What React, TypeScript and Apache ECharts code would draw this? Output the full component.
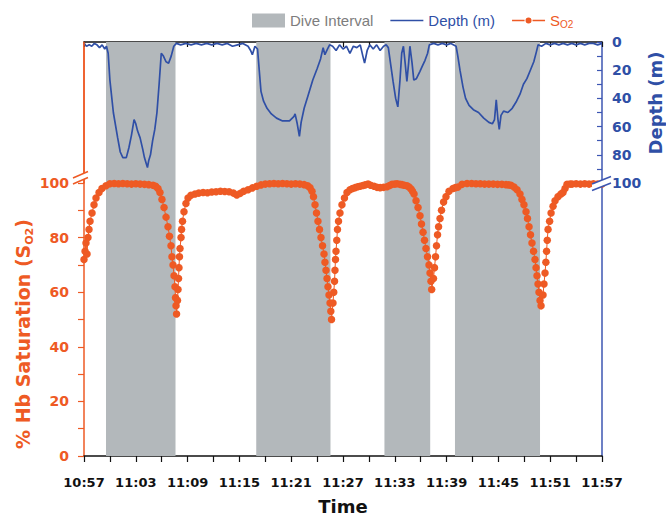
import React, { useEffect, useRef } from 'react';
import * as echarts from 'echarts';

const ORANGE = '#EE5A24';
const BLUE = '#2F4FA6';
const BLUE_AX = '#3C56B2';
const GRAY = '#B3B8BB';

// Dive intervals, minutes after 10:57
const diveStart = [2.55, 19.95, 34.8, 42.97];
const diveEnd = [10.6, 28.55, 40.1, 52.82];

// Depth (m) trace, minutes after 10:57
const depthMin = [
  0, 0.3, 0.6, 0.9, 1.2, 1.5, 1.8, 2.1, 2.4, 2.6, 2.8, 3.0, 3.4, 3.9, 4.2, 4.5, 4.9, 5.2, 5.5, 5.8,
  6.0, 6.2, 6.5, 6.8, 7.0, 7.2, 7.35, 7.5, 7.7, 7.95, 8.2, 8.45, 8.7, 8.95, 9.2, 9.5, 9.8, 10.1, 10.4, 10.7,
  11.2, 11.8, 12.4, 13, 13.6, 14.2, 14.8, 15.4, 16, 16.6, 17.2, 17.8, 18.4, 19, 19.3, 19.5, 19.8,
  20.1, 20.3, 20.5, 20.8, 21.2, 21.7, 22.3, 23, 23.8, 24.3, 24.45, 24.7, 24.95, 25.15, 25.5, 26, 26.5,
  27, 27.4, 27.7, 27.9, 28.2, 28.45,
  28.8, 29.2, 29.6, 30, 30.4, 30.8, 31.2, 31.6, 32, 32.3, 32.5, 32.8, 33.1, 33.5, 33.9, 34.3, 34.7, 35.0,
  35.25, 35.5, 35.8, 36.1, 36.35, 36.6, 36.8, 37, 37.2, 37.4, 37.6, 37.75, 38, 38.2, 38.5, 38.9, 39.2,
  39.5, 39.8, 40, 40.5, 41, 41.5, 42, 42.5,
  43.1, 43.3, 43.55, 43.9, 44.2, 44.6, 45.1, 45.7, 46.3, 46.9, 47.3, 47.55, 47.75, 47.95, 48.1, 48.3,
  48.6, 49.1, 49.6, 50.1, 50.5, 50.9, 51.3, 51.7, 52.1, 52.4, 52.6,
  53, 53.5, 54, 54.5, 55, 55.5, 56, 56.5, 57, 57.5, 58, 58.5, 59, 59.5, 60,
];
const depthM = [
  1, 3, 2, 3, 1, 2, 4, 2, 5, 3, 8, 27, 50, 68, 78, 82, 82, 75, 66, 55,
  58, 63, 68, 76, 82, 86, 89, 84, 80, 70, 62, 50, 30, 8, 10, 14, 15, 10, 3, 1,
  2, 1, 2, 1, 2, 1, 2, 1, 2, 1, 3, 2, 1, 3, 6, 9, 3,
  5, 20, 35, 42, 47, 51, 54, 56, 56, 53, 51, 58, 67, 57, 47, 37, 27,
  19, 12, 4, 9, 5, 2,
  3, 6, 2, 5, 3, 8, 3, 4, 2, 10, 15, 6, 2, 5, 2, 6, 3, 2,
  4, 15, 28, 40, 46, 27, 8, 3, 15, 28, 15, 3, 15, 27, 26, 21, 17,
  13, 8, 2, 1, 2, 1, 2, 1,
  3, 10, 20, 32, 40, 45, 48, 50, 54, 57, 58, 55, 41, 55, 62, 52,
  49, 50, 47, 42, 37, 30, 26, 20, 14, 7, 2,
  3, 1, 2, 1, 2, 1, 2, 1, 2, 1, 2, 1, 1, 2, 1,
];

// Hb saturation (%) samples, minutes after 10:57
const so2Min = [
  0, 0.12, 0.23, 0.35, 0.46, 0.58, 0.7, 0.93, 1.16, 1.39, 1.74, 2.08, 2.55, 3.0, 3.5, 4.0, 4.5, 5.0,
  5.5, 6.0, 6.5, 7.0, 7.5, 8.0, 8.3, 8.57, 8.8, 9.03, 9.27, 9.5, 9.73, 9.9, 10.08, 10.19, 10.31, 10.43,
  10.54, 10.6, 10.66, 10.72, 10.83, 10.89, 10.95, 11.0, 11.06, 11.12, 11.24, 11.3, 11.41, 11.58, 11.81,
  12.05, 12.39, 12.86, 13.3, 13.8, 14.3, 14.8, 15.3, 15.8, 16.3, 16.8, 17.3, 17.7, 18.1, 18.5, 19.0,
  19.5, 20.0, 20.5, 21.0, 21.5, 22.0, 22.5, 23.0, 23.5, 24.0, 24.5, 25.0, 25.5, 25.9, 26.18, 26.41,
  26.58, 26.76, 26.93, 27.1, 27.28, 27.45, 27.63, 27.8, 27.91, 28.03, 28.15, 28.26, 28.38, 28.5, 28.59,
  28.67, 28.84, 28.93, 29.02, 29.07, 29.13, 29.19, 29.28, 29.36, 29.48, 29.65, 29.88, 30.17, 30.46,
  30.81, 31.1, 31.39, 31.7, 31.97, 32.3, 32.55, 32.9, 33.2, 33.6, 33.94, 34.3, 34.7, 35.1, 35.4, 35.68,
  36.0, 36.26, 36.6, 36.84, 37.1, 37.41, 37.65, 37.88, 38.05, 38.23, 38.46, 38.69, 38.92, 39.09, 39.27,
  39.44, 39.61, 39.79, 39.96, 40.08, 40.19, 40.27, 40.48, 40.6, 40.72, 40.83, 40.95, 41.07, 41.24,
  41.41, 41.65, 41.93, 42.28, 42.74, 43.0, 43.32, 43.79, 44.37, 44.9, 45.4, 45.9, 46.4, 46.9, 47.4,
  47.9, 48.4, 48.88, 49.2, 49.46, 49.81, 50.16, 50.5, 50.73, 50.96, 51.2, 51.37, 51.55, 51.72, 51.89,
  52.07, 52.24, 52.36, 52.47, 52.59, 52.7, 52.82, 52.94, 53.17, 53.28, 53.4, 53.5, 53.58, 53.66, 53.75,
  53.93, 54.1, 54.33, 54.56, 54.9, 55.25, 55.48, 55.72, 55.95, 56.3, 56.53, 57.0, 57.5, 58.0, 58.5,
  59.0, 59.5, 60.0,
];
const so2Pct = [
  72, 75, 78, 74, 80, 83, 86, 89, 92, 94.5, 96.5, 98, 99, 99.7, 99.8, 99.7, 99.8, 99.7,
  99.6, 99.7, 99.6, 99.5, 99.4, 99.2, 98.8, 98, 96.5, 94, 91, 87.5, 84, 80.5, 77, 73, 70, 66,
  62, 58, 55, 52, 57, 61, 65, 69, 73, 76, 80, 83, 86, 89.5, 92.5,
  94.5, 95.5, 96, 96.3, 96.5, 96.4, 96.7, 96.8, 97, 96.9, 96.8, 96.3, 95.6, 96.2, 97, 97.5,
  98.2, 98.8, 99.3, 99.6, 99.7, 99.8, 99.7, 99.8, 99.7, 99.6, 99.7, 99.6, 99.4, 99, 98.3, 97,
  95, 92, 89, 86, 83, 80, 77, 74, 71, 68, 65, 62, 59, 56, 53,
  50, 56, 60, 64, 68, 72, 75, 79, 83, 86, 89, 92, 94.5, 96.5,
  97.5, 98, 98.3, 98.6, 98.8, 99.1, 99.3, 99.6, 99.2, 98.8, 98.4, 98.3, 98.4, 98.6, 99.1, 99.5,
  99.6, 99.7, 99.5, 99.4, 99.2, 99, 98.5, 97.8, 97, 96, 93.5, 91, 88, 85, 82,
  79, 76, 73, 70, 67, 64, 61, 65, 69, 73, 77, 81, 84, 87,
  90, 93, 95, 97, 98, 98.3, 98.5, 99.5, 99.8, 99.8, 99.7, 99.7, 99.6, 99.6, 99.6,
  99.5, 99.5, 99.4, 99.3, 99.2, 98.5, 97.5, 96, 94, 92, 89.5, 87, 84, 81, 78,
  75, 72, 69, 66, 63, 60, 57, 55, 59, 63, 67, 71, 75, 79, 83,
  86, 89, 91.5, 93.5, 95, 96, 96.5, 98, 99.5, 99.6, 99.6, 99.7, 99.6, 99.7, 99.6,
  99.7, 99.6, 99.6,
];

function fmtTime(v: number): string {
  const t = 10 * 60 + 57 + Math.round(v);
  const h = Math.floor(t / 60);
  const m = t % 60;
  return `${h}:${String(m).padStart(2, '0')}`;
}

// legend icons (tiny corner specks fix the icon box to 33x14)
const BOX = 'M0,0h0.05v0.05h-0.05z M32.95,13.95h0.05v0.05h-0.05z ';
const LINE_ICON = 'path://' + BOX + 'M0,6.2h33v1.6h-33z';
const DOT_ICON = 'path://' + BOX + 'M0,6.3h12.5v1.4h-12.5z M20.5,6.3h12.5v1.4h-12.5z M13.5,7a3,3 0 1,0 6,0a3,3 0 1,0 -6,0z';

export default function App() {
  const ref = useRef<HTMLDivElement>(null);
  useEffect(() => {
    const chart = echarts.init(ref.current as HTMLDivElement, null, { renderer: 'svg' });
    const diveAreas = diveStart.map((s, i) => [{ xAxis: s }, { xAxis: diveEnd[i] }]);
    const titleRich = {
      m: { fontFamily: 'DejaVu Sans', fontSize: 19, fontWeight: 'bold', fill: ORANGE, lineHeight: 24 },
      sub: { fontFamily: 'DejaVu Sans', fontSize: 11, fontWeight: 'bold', fill: ORANGE, verticalAlign: 'bottom', lineHeight: 13 },
    };
    const option: any = {
      animation: false,
      backgroundColor: '#ffffff',
      textStyle: { fontFamily: 'DejaVu Sans' },
      legend: {
        left: 247,
        top: 8,
        itemWidth: 33,
        itemHeight: 14,
        itemGap: 17,
        formatter: (n: string) => (n === 'SO2' ? '{s|S}{o|O2}' : n),
        textStyle: {
          fontFamily: 'Liberation Sans',
          fontSize: 15,
          rich: {
            s: { color: ORANGE, fontSize: 15, fontFamily: 'Liberation Sans', lineHeight: 18 },
            o: { color: ORANGE, fontSize: 10, fontFamily: 'Liberation Sans', verticalAlign: 'bottom', lineHeight: 12 },
          },
        },
        data: [
          { name: 'Dive Interval', icon: 'rect', itemStyle: { color: GRAY }, textStyle: { color: '#7d7d7d' } },
          { name: 'Depth (m)', icon: LINE_ICON, itemStyle: { color: BLUE }, textStyle: { color: BLUE } },
          { name: 'SO2', icon: DOT_ICON, itemStyle: { color: ORANGE }, textStyle: { color: ORANGE } },
        ],
      },
      grid: [
        { left: 84, width: 518, top: 42, height: 141 },
        { left: 84, width: 518, top: 183, height: 280 },
      ],
      xAxis: [
        {
          type: 'value', gridIndex: 0, position: 'top', min: 0, max: 60, interval: 3,
          axisLine: { onZero: false, lineStyle: { color: '#111', width: 1.5 } },
          axisTick: { inside: true, length: 5, lineStyle: { color: '#111', width: 1.2 } },
          axisLabel: { show: false }, splitLine: { show: false },
        },
        {
          type: 'value', gridIndex: 1, position: 'bottom', min: 0, max: 60, interval: 3,
          axisLine: { onZero: false, lineStyle: { color: '#111', width: 1.5 } },
          axisTick: { length: 6, lineStyle: { color: '#111', width: 1.2 } },
          axisLabel: {
            formatter: (v: number) => (Math.round(v) % 6 === 0 ? fmtTime(v) : ''),
            color: '#111', fontWeight: 'bold', fontSize: 13, fontFamily: 'DejaVu Sans', margin: 20,
          },
          splitLine: { show: false },
          name: 'Time', nameLocation: 'middle', nameGap: 41,
          nameTextStyle: { fontWeight: 'bold', fontSize: 18, color: '#111', fontFamily: 'DejaVu Sans' },
        },
      ],
      yAxis: [
        {
          type: 'value', gridIndex: 0, position: 'right', inverse: true, min: 0, max: 100, interval: 10,
          axisLine: { show: true, onZero: false, lineStyle: { color: BLUE_AX, width: 1.5 } },
          axisTick: { show: true, inside: true, length: 5, lineStyle: { color: BLUE_AX, width: 1.2 } },
          axisLabel: {
            formatter: (v: number) => (Math.round(v) % 20 === 0 ? String(v) : ''),
            color: BLUE, fontWeight: 'bold', fontSize: 14, fontFamily: 'DejaVu Sans', margin: 10,
          },
          splitLine: { show: false },
        },
        {
          type: 'value', gridIndex: 0, position: 'left', min: 0, max: 100,
          axisLine: { show: true, onZero: false, lineStyle: { color: ORANGE, width: 1.5 } },
          axisTick: { show: false }, axisLabel: { show: false }, splitLine: { show: false },
        },
        {
          type: 'value', gridIndex: 1, position: 'left', min: 0, max: 100, interval: 10,
          axisLine: { show: true, onZero: false, lineStyle: { color: ORANGE, width: 1.5 } },
          axisTick: { show: true, length: 6, lineStyle: { color: ORANGE, width: 1.2 } },
          axisLabel: {
            formatter: (v: number) => (Math.round(v) % 20 === 0 ? String(v) : ''),
            color: ORANGE, fontWeight: 'bold', fontSize: 14, fontFamily: 'DejaVu Sans', margin: 15,
          },
          splitLine: { show: false },
        },
        {
          type: 'value', gridIndex: 1, position: 'right', min: 0, max: 100,
          axisLine: { show: true, onZero: false, lineStyle: { color: BLUE_AX, width: 1.5 } },
          axisTick: { show: false }, axisLabel: { show: false }, splitLine: { show: false },
        },
      ],
      series: [
        {
          name: 'Dive Interval', type: 'line', xAxisIndex: 0, yAxisIndex: 1, data: [],
          itemStyle: { color: GRAY }, lineStyle: { color: GRAY }, z: 1,
          markArea: { silent: true, itemStyle: { color: GRAY, opacity: 1 }, data: diveAreas },
        },
        {
          name: 'Dive Interval', type: 'line', xAxisIndex: 1, yAxisIndex: 2, data: [],
          itemStyle: { color: GRAY }, lineStyle: { color: GRAY }, z: 1,
          markArea: { silent: true, itemStyle: { color: GRAY, opacity: 1 }, data: diveAreas },
        },
        {
          name: 'Depth (m)', type: 'line', xAxisIndex: 0, yAxisIndex: 0,
          data: depthMin.map((t, i) => [t, depthM[i]]),
          symbol: 'none', showSymbol: false,
          lineStyle: { color: BLUE, width: 1.7 }, itemStyle: { color: BLUE }, z: 3,
        },
        {
          name: 'SO2', type: 'line', xAxisIndex: 1, yAxisIndex: 2,
          data: so2Min.map((t, i) => [t, so2Pct[i]]),
          symbol: 'circle', symbolSize: 7.5, showAllSymbol: true,
          lineStyle: { color: ORANGE, width: 1 }, itemStyle: { color: ORANGE }, z: 3,
        },
      ],
      graphic: [
        {
          type: 'text', x: 23, y: 334, rotation: Math.PI / 2, z: 10,
          style: { text: '{m|% Hb Saturation (S}{sub|O2}{m|)}', rich: titleRich, align: 'center', verticalAlign: 'middle' },
        },
        {
          type: 'text', x: 655, y: 103, rotation: Math.PI / 2, z: 10,
          style: {
            text: 'Depth (m)', fill: BLUE, fontFamily: 'DejaVu Sans', fontSize: 18, fontWeight: 'bold',
            align: 'center', verticalAlign: 'middle',
          },
        },
        { type: 'line', z: 5, shape: { x1: 84, y1: 42, x2: 84, y2: 183 }, style: { stroke: ORANGE, lineWidth: 1.5 } },
        { type: 'polygon', z: 20, shape: { points: [[73, 178], [88, 171.5], [88, 177.5], [73, 184]] }, style: { fill: '#ffffff' } },
        { type: 'line', z: 21, shape: { x1: 73, y1: 178, x2: 88, y2: 171.5 }, style: { stroke: ORANGE, lineWidth: 1.5 } },
        { type: 'line', z: 21, shape: { x1: 73, y1: 184, x2: 88, y2: 177.5 }, style: { stroke: ORANGE, lineWidth: 1.5 } },
        { type: 'polygon', z: 20, shape: { points: [[592, 184], [611, 176.5], [611, 183], [592, 190.5]] }, style: { fill: '#ffffff' } },
        { type: 'line', z: 21, shape: { x1: 592, y1: 184, x2: 611, y2: 176.5 }, style: { stroke: BLUE_AX, lineWidth: 1.5 } },
        { type: 'line', z: 21, shape: { x1: 592, y1: 190.5, x2: 611, y2: 183 }, style: { stroke: BLUE_AX, lineWidth: 1.5 } },
      ],
    };
    chart.setOption(option);
    return () => chart.dispose();
  }, []);
  return (
    <div
      ref={ref}
      style={{ position: 'fixed', left: 0, top: 0, width: 666, height: 520, background: '#ffffff' }}
    />
  );
}
